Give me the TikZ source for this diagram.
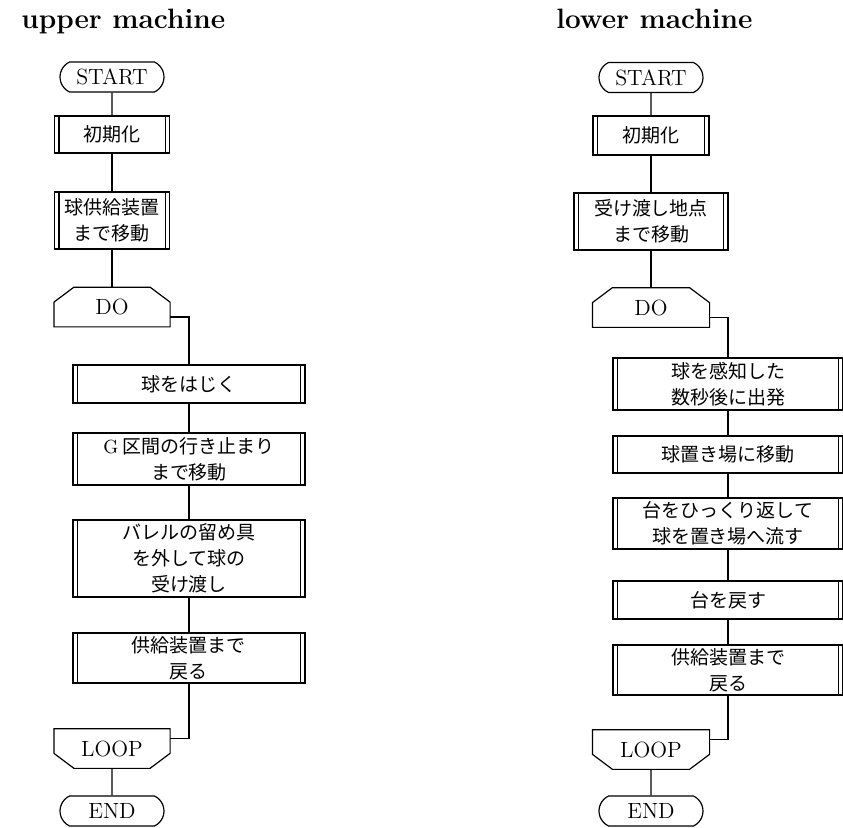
\documentclass[tikz,border=0pt]{standalone}
\usepackage{fontspec}
\newfontfamily\jpfont{Noto Sans CJK JP}
\usetikzlibrary{shapes.misc}
\tikzset{
  term/.style={rounded rectangle, rounded rectangle arc length=130, draw, minimum width=54pt, minimum height=15pt, inner sep=1pt, font=\fontsize{11}{12}\selectfont},
  proc/.style={rectangle, draw, align=center, inner sep=1pt, font=\jpfont\fontsize{9.5}{13}\selectfont,
    path picture={
      \draw ([xshift=2.2pt]path picture bounding box.north west) -- ([xshift=2.2pt]path picture bounding box.south west);
      \draw ([xshift=-2.2pt]path picture bounding box.north east) -- ([xshift=-2.2pt]path picture bounding box.south east);}},
  loopbox/.style={rectangle, minimum width=57.5pt, minimum height=19.25pt, inner sep=1pt, font=\fontsize{11}{12}\selectfont},
  title/.style={anchor=base west, font=\fontsize{14}{16}\selectfont\bfseries}
}
% outlines of the loop limits (corners cut at top / bottom)
\newcommand{\loopbeg}[1]{\draw (#1.south west) -- ([yshift=-7.5pt]#1.north west) -- ([xshift=10pt]#1.north west) -- ([xshift=-10pt]#1.north east) -- ([yshift=-7.5pt]#1.north east) -- (#1.south east) -- cycle;}
\newcommand{\loopfin}[1]{\draw (#1.north west) -- ([yshift=7.5pt]#1.south west) -- ([xshift=10pt]#1.south west) -- ([xshift=-10pt]#1.south east) -- ([yshift=7.5pt]#1.south east) -- (#1.north east) -- cycle;}
\begin{document}
\begin{tikzpicture}[x=0.5pt, y=-0.5pt, line width=0.6pt]
\useasboundingbox (0,0) rectangle (843,827);

% upper machine
\node (utitle) [title] at (14,28) {upper machine};
\node (ustart) [term] at (112,77) {START};
\node (uinit) [proc, node distance=28.75pt, below of=ustart, minimum width=57.5pt, minimum height=18.5pt] {初期化};
\node (umove) [proc, node distance=43pt, below of=uinit, minimum width=57.5pt, minimum height=28.5pt] {球供給装置\\まで移動};
\node (udo) [loopbox, node distance=43.25pt, below of=umove] {DO};
\loopbeg{udo}
\node (ukick) [proc, node distance=38.5pt, below of=udo, xshift=38.5pt, minimum width=116pt, minimum height=19pt] {球をはじく};
\node (ugsec) [proc, node distance=37.5pt, below of=ukick, minimum width=116pt, minimum height=26pt] {\textrm{G} 区間の行き止まり\\まで移動};
\node (ubarrel) [proc, node distance=49.75pt, below of=ugsec, minimum width=116pt, minimum height=38.5pt] {バレルの留め具\\を外して球の\\受け渡し};
\node (uback) [proc, node distance=49.75pt, below of=ubarrel, minimum width=116pt, minimum height=25pt] {供給装置まで\\戻る};
\node (uloop) [loopbox, node distance=45.25pt, below of=uback, xshift=-38.5pt] {LOOP};
\loopfin{uloop}
\node (uend) [term, node distance=31.25pt, below of=uloop] {END};

\draw (ustart) -- (uinit);
\draw (uinit) -- (umove);
\draw (umove) -- (udo);
\draw ([yshift=-5pt]udo.east) -| (ukick.north);
\draw (ukick) -- (ugsec);
\draw (ugsec) -- (ubarrel);
\draw (ubarrel) -- (uback);
\draw (uback.south) |- ([yshift=5pt]uloop.east);
\draw (uloop) -- (uend);

% lower machine
\node (ltitle) [title] at (549,28) {lower machine};
\node (lstart) [term] at (651,77.5) {START};
\node (linit) [proc, node distance=29pt, below of=lstart, minimum width=58pt, minimum height=19.5pt] {初期化};
\node (lmove) [proc, node distance=43pt, below of=linit, minimum width=77pt, minimum height=28.5pt] {受け渡し地点\\まで移動};
\node (ldo) [loopbox, node distance=43pt, below of=lmove, minimum width=58pt] {DO};
\loopbeg{ldo}
\node (lsense) [proc, node distance=38.25pt, below of=ldo, xshift=38.5pt, minimum width=115pt, minimum height=26pt] {球を感知した\\数秒後に出発};
\node (lplace) [proc, node distance=35.25pt, below of=lsense, minimum width=115pt, minimum height=18.5pt] {球置き場に移動};
\node (lflip) [proc, node distance=34.5pt, below of=lplace, minimum width=115pt, minimum height=25.5pt] {台をひっくり返して\\球を置き場へ流す};
\node (lreset) [proc, node distance=38.25pt, below of=lflip, minimum width=115pt, minimum height=19pt] {台を戻す};
\node (lback) [proc, node distance=35pt, below of=lreset, minimum width=115pt, minimum height=25pt] {供給装置まで\\戻る};
\node (lloop) [loopbox, node distance=39.75pt, below of=lback, xshift=-38.5pt, minimum width=58pt] {LOOP};
\loopfin{lloop}
\node (lend) [term, node distance=30.75pt, below of=lloop] {END};

\draw (lstart) -- (linit);
\draw (linit) -- (lmove);
\draw (lmove) -- (ldo);
\draw ([yshift=-5pt]ldo.east) -| (lsense.north);
\draw (lsense) -- (lplace);
\draw (lplace) -- (lflip);
\draw (lflip) -- (lreset);
\draw (lreset) -- (lback);
\draw (lback.south) |- ([yshift=5pt]lloop.east);
\draw (lloop) -- (lend);

\end{tikzpicture}
\end{document}
